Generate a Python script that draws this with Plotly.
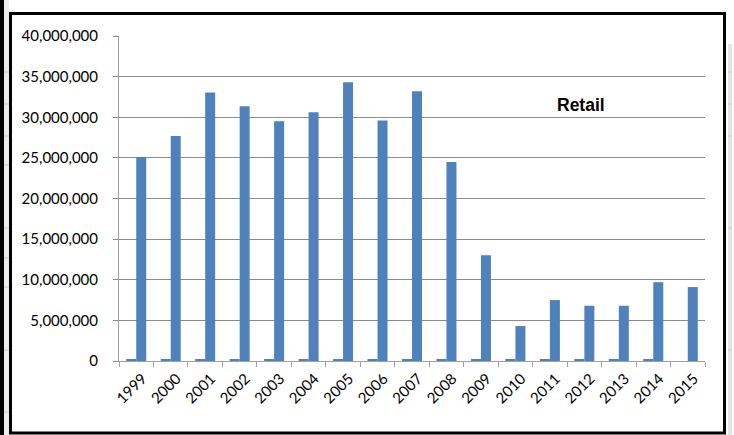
import plotly.graph_objects as go

# Retail figures by year
years = [str(y) for y in range(1999, 2016)]
retail_minor = [180000] * 16 + [0]
retail_main = [25100000, 27700000, 33050000, 31350000, 29500000, 30600000,
               34300000, 29600000, 33200000, 24500000, 13000000, 4300000,
               7500000, 6800000, 6800000, 9700000, 9100000]
y_ticks = list(range(0, 40000001, 5000000))

W, H = 734, 435
L, R, T, B = 119, 29, 36, 74
BLUE = "#4F81BD"

fig = go.Figure()
fig.add_trace(go.Bar(x=years, y=retail_minor, marker=dict(color=BLUE, line=dict(width=0)),
                     showlegend=False))
fig.add_trace(go.Bar(x=years, y=retail_main, marker=dict(color=BLUE, line=dict(width=0)),
                     showlegend=False))


def px_x(p):
    return (p - L) / (W - L - R)


def px_y(p):
    return (H - B - p) / (H - T - B)


shapes = []
# outer dark edge on the far left
shapes.append(dict(type="rect", xref="paper", yref="paper", x0=px_x(0), x1=px_x(4),
                   y0=px_y(H), y1=px_y(0), fillcolor="black", line=dict(width=0), layer="above"))
# pale strips beside the frame
shapes.append(dict(type="rect", xref="paper", yref="paper", x0=px_x(4), x1=px_x(9),
                   y0=px_y(H), y1=px_y(0), fillcolor="#ececec", line=dict(width=0), layer="below"))
shapes.append(dict(type="rect", xref="paper", yref="paper", x0=px_x(728), x1=px_x(732),
                   y0=px_y(H), y1=px_y(44), fillcolor="#e4e4e4", line=dict(width=0), layer="below"))
for yy in [72, 104, 136, 165, 228, 258, 287, 350, 412]:
    shapes.append(dict(type="line", xref="paper", yref="paper", x0=px_x(4), x1=px_x(9),
                       y0=px_y(yy), y1=px_y(yy), line=dict(color="#c8c8c8", width=1)))
for yy in [72, 104, 136, 228, 350]:
    shapes.append(dict(type="line", xref="paper", yref="paper", x0=px_x(728), x1=px_x(732),
                       y0=px_y(yy), y1=px_y(yy), line=dict(color="#c8c8c8", width=1)))
# chart frame
shapes.append(dict(type="rect", xref="paper", yref="paper", x0=px_x(10.5), x1=px_x(724.5),
                   y0=px_y(433), y1=px_y(13.5), line=dict(color="black", width=3),
                   fillcolor="rgba(0,0,0,0)", layer="above"))

fig.update_layout(
    width=W, height=H,
    margin=dict(l=L, r=R, t=T, b=B),
    paper_bgcolor="white", plot_bgcolor="white",
    barmode="group", bargap=0.42, bargroupgap=0,
    font=dict(family="Lato, Liberation Sans, sans-serif", color="black"),
    shapes=shapes,
    annotations=[dict(text="<b>Retail</b>", xref="paper", yref="paper",
                      x=px_x(581), y=px_y(105), xanchor="center", yanchor="middle",
                      showarrow=False,
                      font=dict(size=17.5, color="black",
                                family="Liberation Sans Narrow, Liberation Sans, sans-serif"))],
)
fig.update_xaxes(type="category", showgrid=False, showline=True, linecolor="#a0a0a0",
                 linewidth=1, ticks="outside", tickson="boundaries", ticklen=5,
                 tickcolor="#a0a0a0", tickangle=-45, tickfont=dict(size=15),
                 ticklabelshift=6, ticklabelstandoff=2)
fig.update_yaxes(range=[0, 40000000], tickvals=y_ticks, tickformat=",d",
                 showgrid=True, gridcolor="#8c8c8c", gridwidth=1,
                 showline=True, linecolor="#a0a0a0", linewidth=1,
                 ticks="outside", ticklen=5, tickcolor="#8c8c8c",
                 tickfont=dict(size=15), zeroline=False, ticklabelstandoff=12)

fig.write_html("out.html")
